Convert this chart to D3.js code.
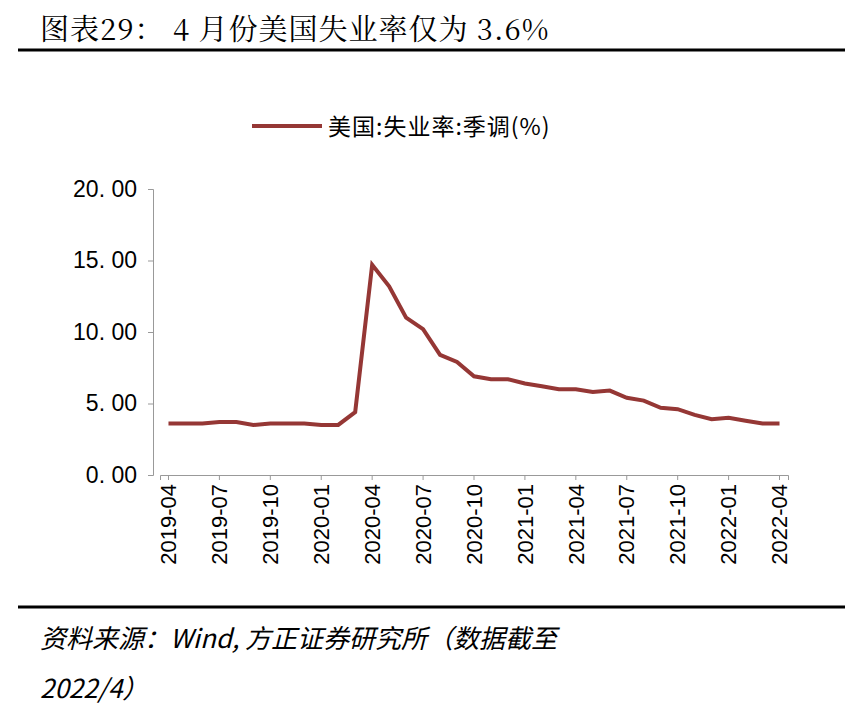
<!DOCTYPE html>
<html><head><meta charset="utf-8">
<script src="https://cdn.jsdelivr.net/npm/d3@7"></script>
<style>body{margin:0;background:#fff}</style></head>
<body><svg id="chart" width="865" height="722"></svg>
<script>
const months = ["2019-04","2019-05","2019-06","2019-07","2019-08","2019-09","2019-10","2019-11","2019-12",
"2020-01","2020-02","2020-03","2020-04","2020-05","2020-06","2020-07","2020-08","2020-09","2020-10","2020-11","2020-12",
"2021-01","2021-02","2021-03","2021-04","2021-05","2021-06","2021-07","2021-08","2021-09","2021-10","2021-11","2021-12",
"2022-01","2022-02","2022-03","2022-04"]
const rate = [3.6,3.6,3.6,3.7,3.7,3.5,3.6,3.6,3.6,3.5,3.5,4.4,14.7,13.2,11.0,10.2,8.4,7.9,6.9,6.7,6.7,
6.4,6.2,6.0,6.0,5.8,5.9,5.4,5.2,4.7,4.6,4.2,3.9,4.0,3.8,3.6,3.6]
const yTicks = [0,5,10,15,20]
const labelMonths = months.filter((d,i)=>i%3===0)

const svg = d3.select("#chart")
const font = "'Noto Sans CJK SC', sans-serif"

svg.append("text").attr("x",40).attr("y",40).attr("font-family","'Noto Serif CJK SC','Noto Sans CJK SC',serif")
  .attr("font-size","29px").attr("letter-spacing","1px").text("图表29： 4 月份美国失业率仅为 3.6%")
svg.append("line").attr("x1",18).attr("x2",845).attr("y1",50).attr("y2",50).attr("stroke","#000").attr("stroke-width",3)
svg.append("line").attr("x1",18).attr("x2",845).attr("y1",607).attr("y2",607).attr("stroke","#000").attr("stroke-width",3)

const x = d3.scaleBand().domain(months).range([160,788])
const y = d3.scaleLinear().domain([0,20]).range([475,189])

const g = svg.append("g")
const ya = g.append("g").attr("transform","translate(153,0)")
  .call(d3.axisLeft(y).tickValues(yTicks).tickFormat(d=>d3.format(".2f")(d).replace("."," . ").replace(" . ",". ")).tickSize(5))
ya.select(".domain").attr("stroke","#999")
ya.selectAll("line").attr("stroke","#999")
ya.selectAll("text").attr("font-family","Arial, 'Liberation Sans'").attr("font-size","23px").attr("fill","#000").attr("dx","-8")

const xa = g.append("g").attr("transform","translate(0,475)")
  .call(d3.axisBottom(x).tickValues(labelMonths).tickSize(5))
xa.select(".domain").attr("stroke","#999")
xa.selectAll("line").attr("stroke","#999")
xa.selectAll("text").attr("font-family","Arial, 'Liberation Sans'").attr("font-size","22px").attr("fill","#000")
  .attr("transform","rotate(-90)").attr("text-anchor","end").attr("x",-9).attr("y",0).attr("dy","0.35em")

const line = d3.line().x((d,i)=>x(months[i])+x.bandwidth()/2).y(d=>y(d))
g.append("path").datum(rate).attr("d",line).attr("fill","none").attr("stroke","#953735").attr("stroke-width",4)

svg.append("line").attr("x1",252).attr("x2",322).attr("y1",126).attr("y2",126).attr("stroke","#953735").attr("stroke-width",4)
svg.append("text").attr("x",328).attr("y",135).attr("font-family",font).attr("font-size","23px").attr("letter-spacing","1px").text("美国:失业率:季调(%)")

svg.append("text").attr("x",40).attr("y",648).attr("font-family",font).attr("font-style","italic").attr("font-size","26px")
  .text("资料来源：Wind, 方正证券研究所（数据截至")
svg.append("text").attr("x",40).attr("y",698).attr("font-family",font).attr("font-style","italic").attr("font-size","26px")
  .text("2022/4）")
</script></body></html>
